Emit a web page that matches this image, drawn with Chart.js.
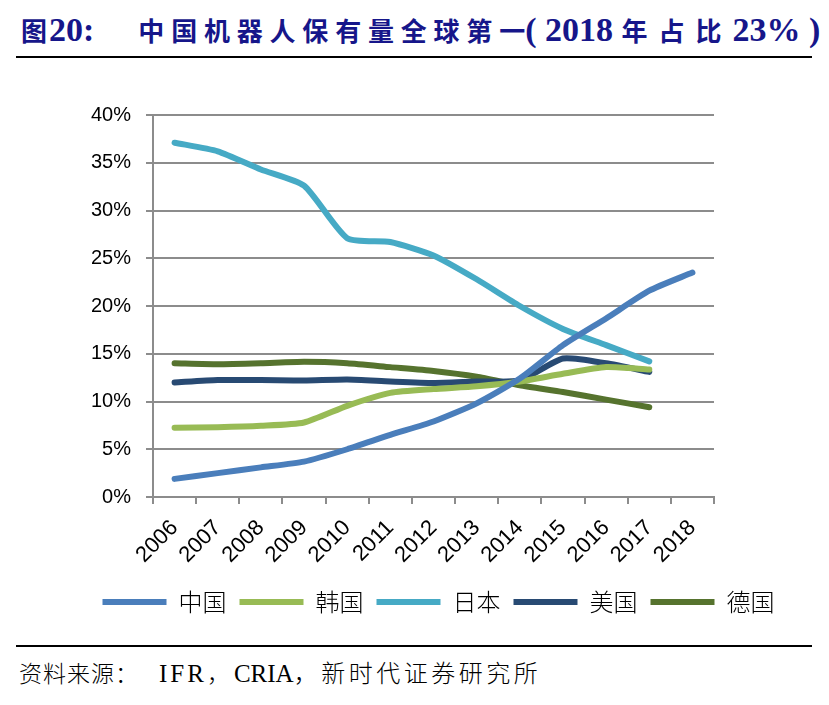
<!DOCTYPE html>
<html>
<head>
<meta charset="utf-8">
<script src="https://cdn.jsdelivr.net/npm/chart.js@4/dist/chart.umd.min.js"></script>
<style>
  body { margin: 0; background: #fff; width: 829px; height: 705px; position: relative; overflow: hidden; }
  .title { position: absolute; left: 21px; top: 11px; white-space: nowrap; color: #16168a;
           font-family: "Liberation Serif", serif; font-weight: bold; font-size: 34px; }
  .title .cn { font-family: "Noto Sans CJK SC", sans-serif; font-size: 26px; letter-spacing: 7px; font-weight: 700; }
  .rule { position: absolute; left: 16px; width: 796px; height: 2px; background: #000; }
  .source { position: absolute; left: 19px; top: 654px; white-space: nowrap; color: #000;
            font-family: "Liberation Serif", serif; font-size: 25px; }
  .source .cn { font-family: "Noto Sans CJK SC", sans-serif; font-weight: 300; font-size: 23px; }
  #wrap { position: absolute; left: 48px; top: 88px; width: 781px; height: 540px; }
</style>
</head>
<body>
<div class="title"><span class="cn" style="letter-spacing:2px">图</span>20:<span style="display:inline-block;width:44px"></span><span class="cn" style="letter-spacing:6.8px">中国机器人保有量全球第</span><span class="cn" style="letter-spacing:0">一</span>( 2018 <span class="cn" style="letter-spacing:11px">年占比</span>23% )</div>
<div class="rule" style="top:56px"></div>
<div id="wrap"><canvas id="c"></canvas></div>
<div class="rule" style="top:645px"></div>
<div class="source"><span class="cn" style="letter-spacing:1px">资料来源：</span><span style="letter-spacing:3px;margin-left:20px">IFR</span><span class="cn" style="letter-spacing:4px">，</span>CRIA<span class="cn" style="font-size:24px;letter-spacing:3.5px">，新时代证券研究所</span></div>
<script>
  const years = ['2006','2007','2008','2009','2010','2011','2012','2013','2014','2015','2016','2017','2018'];
  const yTicks = ['0%','5%','10%','15%','20%','25%','30%','35%','40%'];
  const china   = [1.9, 2.5, 3.1, 3.7, 5.0, 6.5, 7.9, 9.8, 12.4, 15.9, 18.7, 21.6, 23.5];
  const korea   = [7.25, 7.3, 7.45, 7.8, 9.55, 10.9, 11.3, 11.6, 12.1, 12.9, 13.6, 13.35, null];
  const japan   = [37.1, 36.2, 34.3, 32.6, 27.1, 26.7, 25.3, 22.8, 20.0, 17.6, 15.9, 14.2, null];
  const usa     = [12.0, 12.25, 12.25, 12.2, 12.3, 12.1, 11.95, 12.1, 12.2, 14.5, 14.0, 13.1, null];
  const germany = [14.0, 13.9, 14.0, 14.15, 14.0, 13.6, 13.2, 12.6, 11.7, 11.0, 10.2, 9.4, null];

  function series(label, data, color) {
    return {
      label, data,
      borderColor: color,
      backgroundColor: color,
      borderWidth: 6,
      borderCapStyle: 'round',
      borderJoinStyle: 'round',
      pointRadius: 0,
      pointHoverRadius: 0,
      tension: 0.2,
      fill: false
    };
  }

  const tickFont = { family: '"Liberation Sans", Arial, sans-serif', size: 20 };

  new Chart(document.getElementById('c'), {
    type: 'line',
    data: {
      labels: years,
      datasets: [
        series('中国', china, '#4a7ebb'),
        series('韩国', korea, '#98bb55'),
        series('日本', japan, '#46aac5'),
        series('美国', usa, '#284a73'),
        series('德国', germany, '#56732e')
      ]
    },
    options: {
      responsive: true,
      maintainAspectRatio: false,
      animation: false,
      layout: { padding: { left: 0, right: 0, top: 13, bottom: 4 } },
      plugins: {
        tooltip: { enabled: false },
        legend: {
          position: 'bottom',
          labels: {
            usePointStyle: true,
            pointStyle: 'line',
            pointStyleWidth: 64,
            boxHeight: 24,
            padding: 13,
            color: '#000',
            font: { family: '"Noto Sans CJK SC", sans-serif', size: 24, weight: 300 }
          }
        }
      },
      scales: {
        x: {
          offset: true,
          grid: { offset: true, drawOnChartArea: false, drawTicks: true, tickLength: 7, color: '#8c8c8c', lineWidth: 2 },
          border: { color: '#8c8c8c', width: 2 },
          ticks: { maxRotation: 45, minRotation: 45, padding: 11, color: '#000', font: { family: tickFont.family, size: 22 } },
          afterFit: s => { s.height = 80; }
        },
        y: {
          min: 0, max: 40,
          grid: { color: '#8c8c8c', lineWidth: 2, tickLength: 7 },
          border: { color: '#8c8c8c', width: 2 },
          ticks: {
            stepSize: 5, padding: 15, color: '#000', font: tickFont,
            callback: (v, i) => yTicks[i]
          },
          afterFit: s => { s.width = 105; }
        },
        // empty right-hand margin so the plot ends where the original does
        yr: {
          position: 'right',
          grid: { drawOnChartArea: false, drawTicks: false },
          border: { display: false },
          ticks: { display: false },
          afterFit: s => { s.width = 115; }
        }
      }
    }
  });
</script>
</body>
</html>
